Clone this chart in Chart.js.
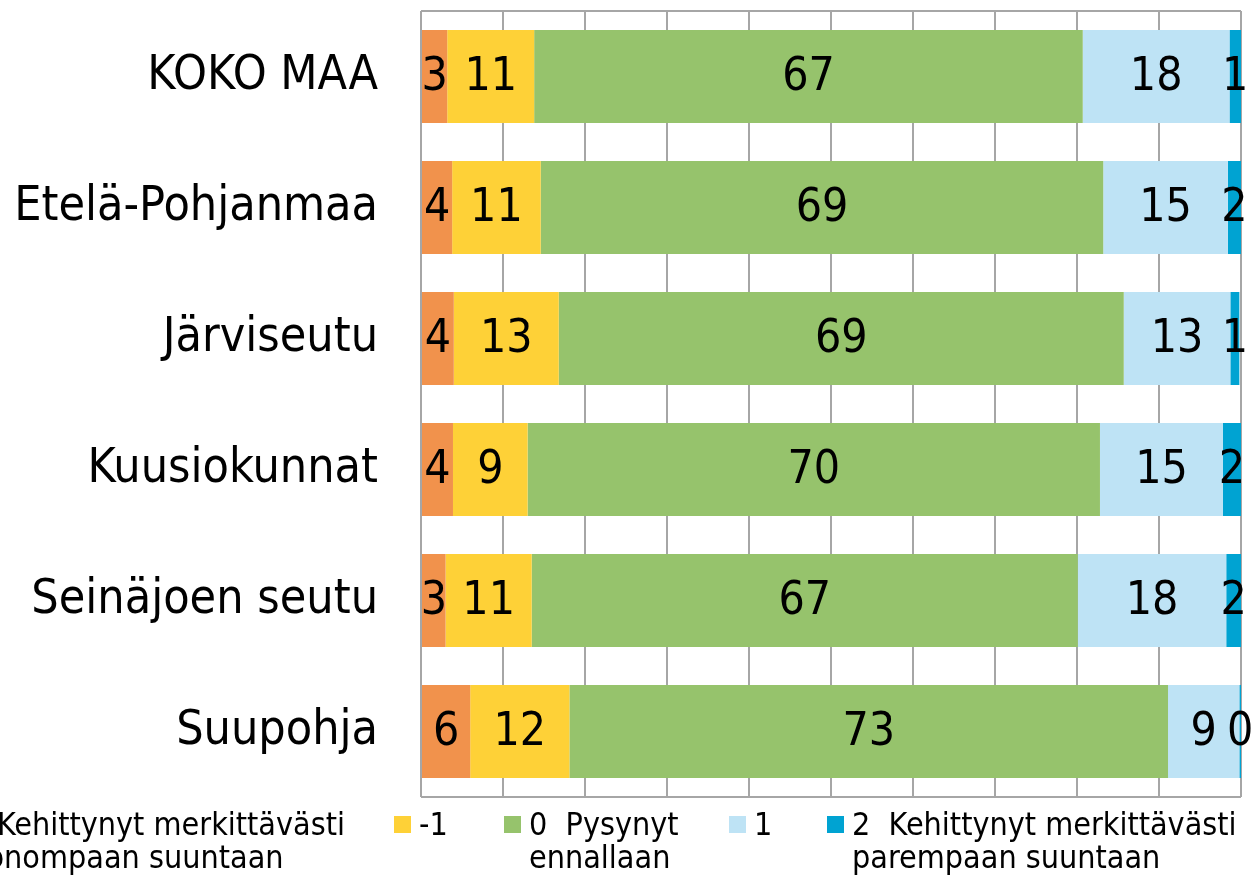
<!DOCTYPE html>
<html>
<head>
<meta charset="utf-8">
<script src="https://cdn.jsdelivr.net/npm/chart.js@4.4.1/dist/chart.umd.min.js"></script>
<style>
  html, body { margin: 0; padding: 0; background: #ffffff; }
  #wrap { position: relative; width: 1253px; height: 877px; }
</style>
</head>
<body>
<div id="wrap"><canvas id="c" width="1253" height="877"></canvas></div>
<script>
// ---- data ----
const categories = ['KOKO MAA', 'Etelä-Pohjanmaa', 'Järviseutu', 'Kuusiokunnat', 'Seinäjoen seutu', 'Suupohja'];
const seriesNames = [
  ['-2  Kehittynyt merkittävästi', 'huonompaan suuntaan'],
  ['-1'],
  ['0  Pysynyt', 'ennallaan'],
  ['1'],
  ['2  Kehittynyt merkittävästi', 'parempaan suuntaan']
];
const valMinus2 = [3.2, 3.8, 4.0, 3.9, 3.0, 6.0];
const valMinus1 = [10.6, 10.8, 12.8, 9.1, 10.5, 12.1];
const valZero   = [66.9, 68.6, 68.9, 69.8, 66.6, 73.0];
const valPlus1  = [17.9, 15.2, 13.0, 15.0, 18.1, 8.7];
const valPlus2  = [1.4, 1.6, 1.1, 2.2, 1.8, 0.2];
const xTickMin = 0, xTickMax = 100, xTickStep = 10;

// ---- styles ----
const colors = ['#F1924C', '#FED137', '#96C36C', '#BEE3F5', '#00A3D2'];
const FONT = "'DejaVu Sans Condensed', 'DejaVu Sans', sans-serif";
const legendBoxX = [-75, 394, 504, 729, 827];

const seriesValues = [valMinus2, valMinus1, valZero, valPlus1, valPlus2];

const valueLabels = {
  id: 'valueLabels',
  afterDatasetsDraw(chart) {
    const ctx = chart.ctx;
    ctx.save();
    ctx.font = "46px " + FONT;
    ctx.fillStyle = '#000';
    ctx.textAlign = 'center';
    ctx.textBaseline = 'middle';
    chart.data.datasets.forEach((ds, di) => {
      const meta = chart.getDatasetMeta(di);
      meta.data.forEach((el, i) => {
        const v = ds.data[i];
        const cx = (el.x + el.base) / 2;
        ctx.fillText(String(Math.round(v)), cx, el.y + 2);
      });
    });
    ctx.restore();
  }
};

const frameLines = {
  id: 'frameLines',
  beforeDatasetsDraw(chart) {
    const ctx = chart.ctx, a = chart.chartArea;
    ctx.save();
    ctx.strokeStyle = '#A6A6A6';
    ctx.lineWidth = 2;
    ctx.beginPath();
    ctx.moveTo(a.left, a.top); ctx.lineTo(a.right, a.top);
    ctx.moveTo(a.left, a.bottom); ctx.lineTo(a.right, a.bottom);
    ctx.stroke();
    ctx.restore();
  }
};

const customLegend = {
  id: 'customLegend',
  afterDraw(chart) {
    const ctx = chart.ctx;
    ctx.save();
    ctx.font = "32px " + FONT;
    ctx.textBaseline = 'alphabetic';
    ctx.textAlign = 'left';
    chart.data.datasets.forEach((ds, i) => {
      const bx = legendBoxX[i];
      ctx.fillStyle = ds.backgroundColor;
      ctx.fillRect(bx, 816, 17, 17);
      ctx.fillStyle = '#000';
      ds.legendLines.forEach((line, li) => {
        ctx.fillText(line, bx + 25, 835 + li * 33);
      });
    });
    ctx.restore();
  }
};

new Chart(document.getElementById('c'), {
  type: 'bar',
  data: {
    labels: categories,
    datasets: seriesValues.map((vals, i) => ({
      label: seriesNames[i].join(' '),
      legendLines: seriesNames[i],
      data: vals,
      backgroundColor: colors[i],
      borderWidth: 0,
      barPercentage: 0.71,
      categoryPercentage: 1.0
    }))
  },
  options: {
    indexAxis: 'y',
    responsive: false,
    animation: false,
    devicePixelRatio: 1,
    layout: { padding: { top: 11, right: 12, bottom: 80, left: 0 } },
    plugins: {
      legend: { display: false },
      tooltip: { enabled: false }
    },
    scales: {
      x: {
        stacked: true,
        min: xTickMin,
        max: xTickMax,
        ticks: { display: false, stepSize: xTickStep },
        grid: { color: '#A6A6A6', lineWidth: 2, drawTicks: false },
        border: { display: false },
        afterFit(s) { s.height = 0; s.paddingLeft = 0; s.paddingRight = 0; }
      },
      y: {
        stacked: true,
        grid: { display: false, drawTicks: false },
        border: { display: false },
        ticks: { color: '#000', font: { family: FONT, size: 48 }, padding: 43 },
        afterFit(s) { s.width = 421; s.paddingTop = 0; s.paddingBottom = 0; }
      }
    }
  },
  plugins: [frameLines, valueLabels, customLegend]
});
</script>
</body>
</html>
